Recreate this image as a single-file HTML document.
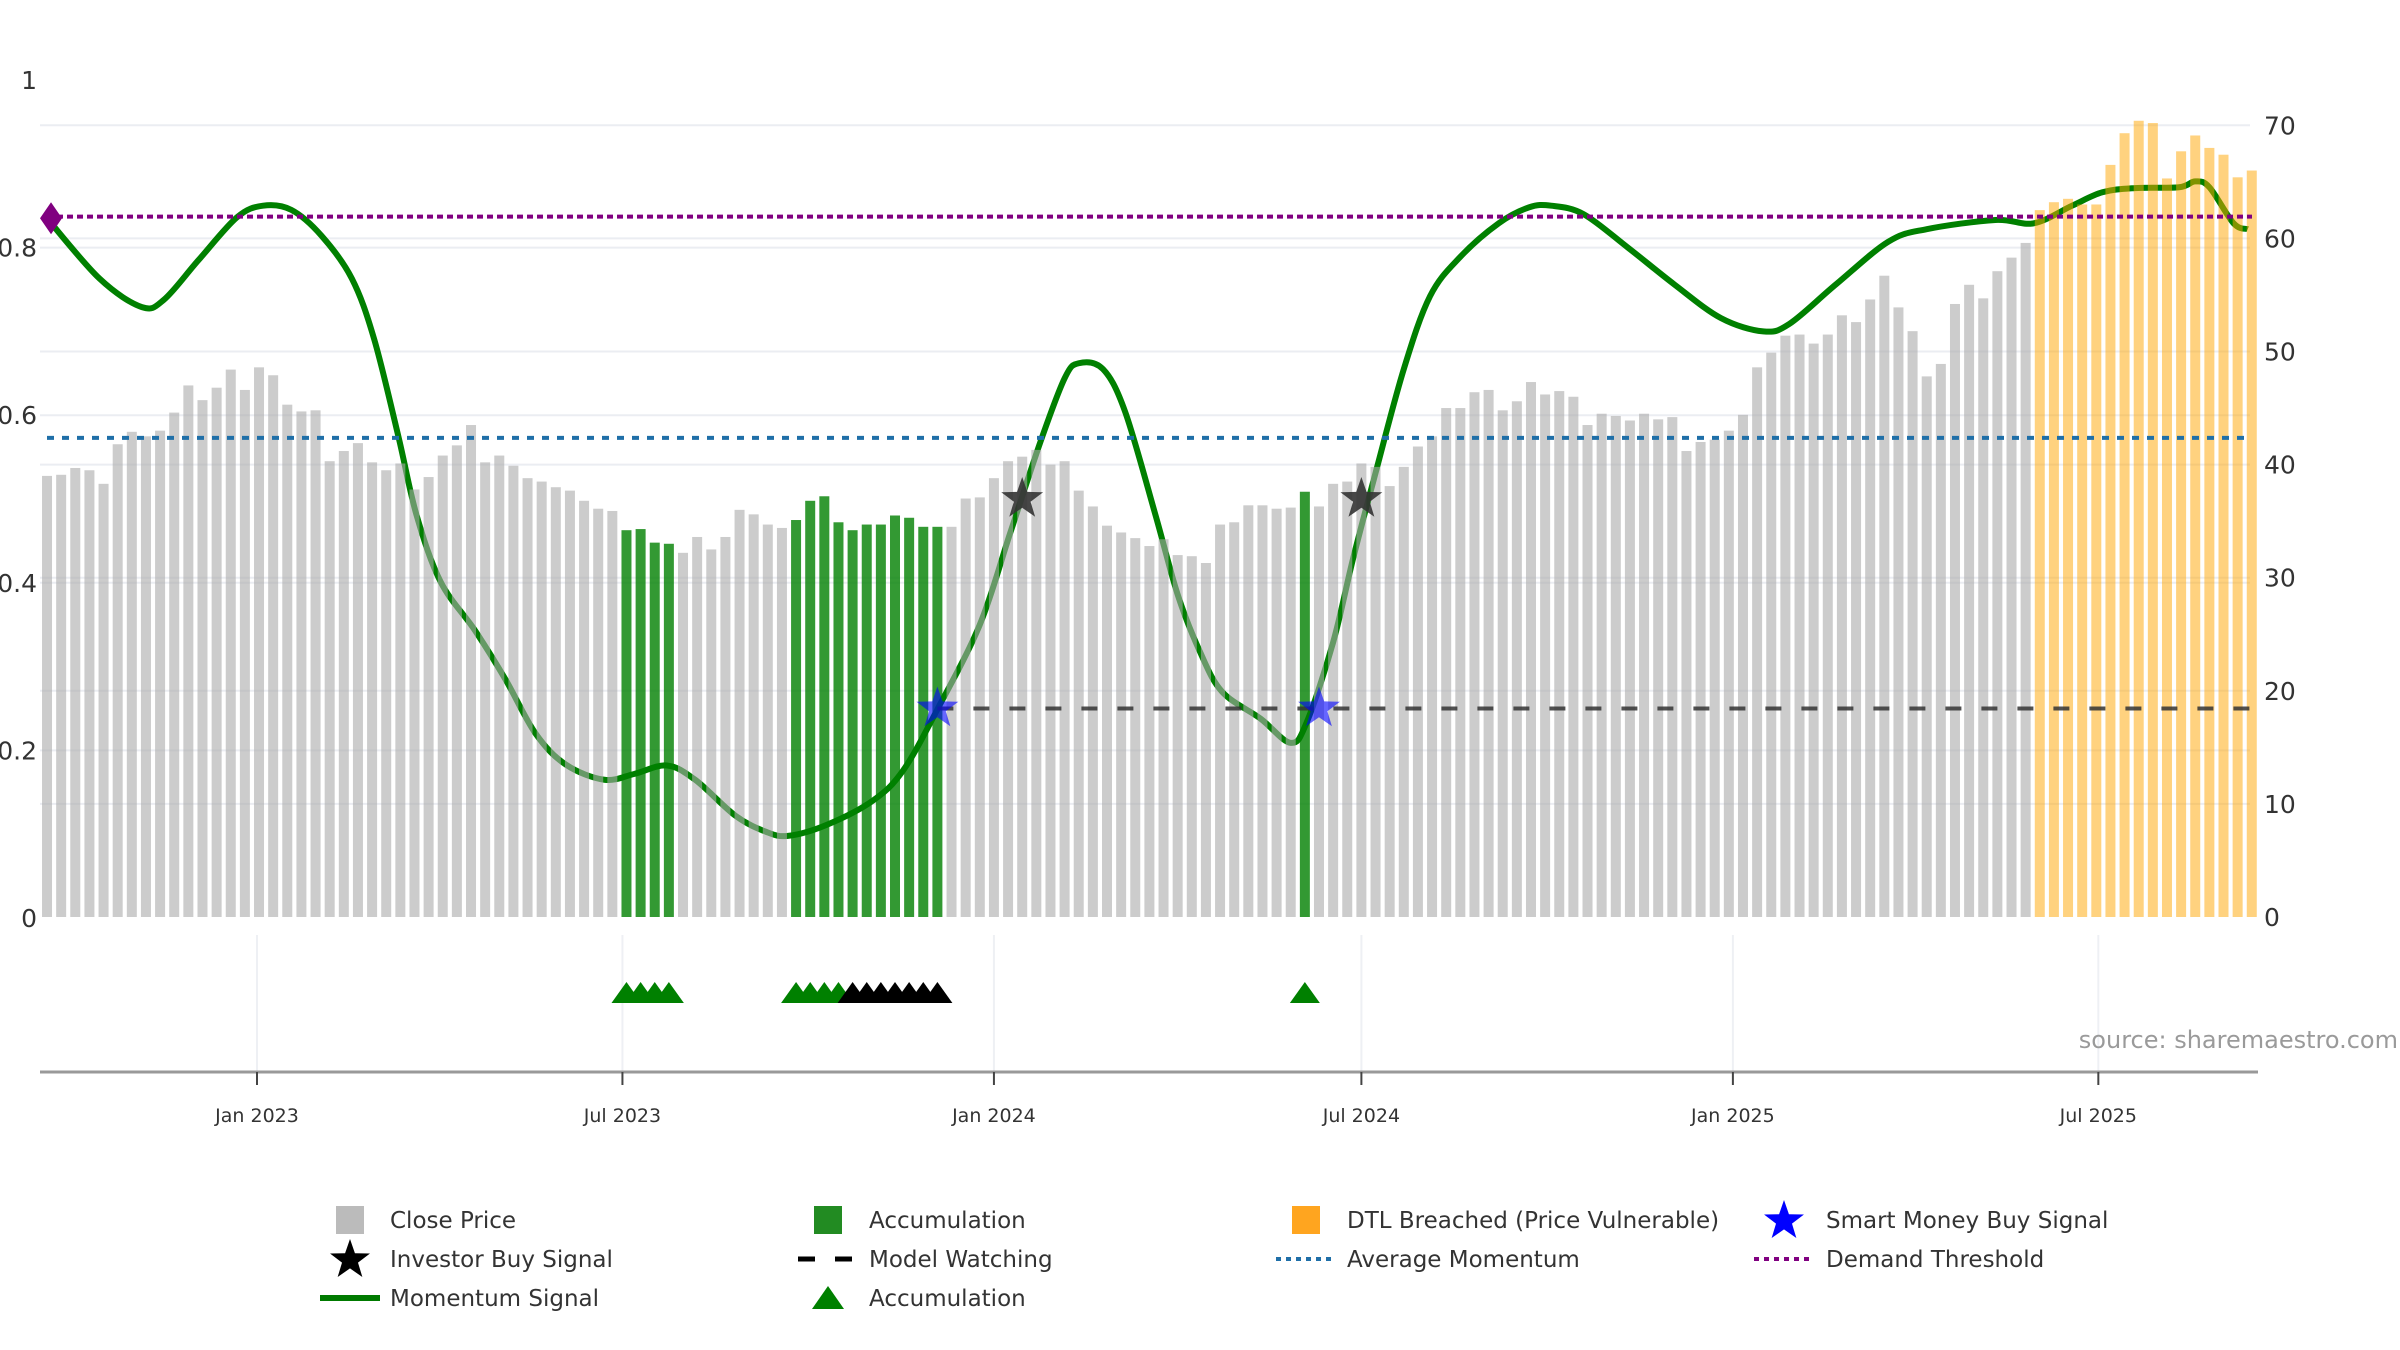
<!DOCTYPE html>
<html><head><meta charset="utf-8"><style>
html,body{margin:0;padding:0;background:#fff}
svg{display:block;font-family:"DejaVu Sans","Liberation Sans",sans-serif}
</style></head><body>
<svg id="chart" width="2400" height="1350" viewBox="0 0 2400 1350" xmlns="http://www.w3.org/2000/svg">
<g id="grid"></g>
<g id="lineLayer"></g>
<g id="bars"></g>
<g id="refs"></g>
<g id="markers"></g>
<g id="axes"></g>
<g id="legend"></g>
<text x="2398" y="1048" text-anchor="end" font-size="24" fill="#9a9a9a">source: sharemaestro.com</text>
</svg>
<script>
// ---- data ----
const closePrices = [39.0,39.1,39.7,39.5,38.3,41.8,42.9,42.5,43.0,44.6,47.0,45.7,46.8,48.4,46.6,48.6,47.9,45.3,44.7,44.8,40.3,41.2,41.9,40.2,39.5,40.1,37.8,38.9,40.8,41.7,43.5,40.2,40.8,39.9,38.8,38.5,38.0,37.7,36.8,
36.1,35.9,34.2,34.3,33.1,33.0,32.2,33.6,32.5,33.6,36.0,35.6,34.7,34.4,35.1,36.8,37.2,34.9,34.2,34.7,34.7,35.5,35.3,34.5,34.5,34.5,37.0,37.1,38.8,40.3,40.7,41.3,40.0,40.3,37.7,36.3,34.6,34.0,33.5,
32.8,33.4,32.0,31.9,31.3,34.7,34.9,36.4,36.4,36.1,36.2,37.6,36.3,38.3,38.5,40.1,39.8,38.1,39.8,41.6,42.5,45.0,45.0,46.4,46.6,44.8,45.6,47.3,46.2,46.5,46.0,43.5,44.5,44.3,43.9,44.5,44.0,44.2,
41.2,42.0,42.2,43.0,44.4,48.6,49.9,51.4,51.5,50.7,51.5,53.2,52.6,54.6,56.7,53.9,51.8,47.8,48.9,54.2,55.9,54.7,57.1,58.3,59.6,62.5,63.2,63.5,63.0,63.0,66.5,69.3,70.4,70.2,65.3,67.7,69.1,68.0,67.4,65.4,66.0];
const firstWeekDay = -104; // days from 2023-01-01 of first weekly bar
const accumulationBars = [41,42,43,44,53,54,55,56,57,58,59,60,61,62,63,89];
const dtlBars = [141,142,143,144,145,146,147,148,149,150,151,152,153,154,155,156];
const momentumDays = [-104,-78,-57,-46,-29,-10,3,17,32,47,58,70,79,91,108,123,138,153,172,187,203,217,237,252,263,282,305,320,337,358,373,388,400,407,419,430,445,456,467,478,497,512,520,533,543,554,568,581,596,615,630,641,657,679,702,725,746,759,782,808,827,861,880,899,914,930,952,960,967,979,986];
const momentumValues = [0.835,0.763,0.729,0.738,0.785,0.836,0.850,0.845,0.814,0.763,0.691,0.575,0.481,0.401,0.343,0.285,0.220,0.183,0.165,0.172,0.182,0.165,0.122,0.103,0.098,0.111,0.140,0.176,0.249,0.350,0.459,0.568,0.644,0.662,0.655,0.604,0.481,0.386,0.318,0.270,0.238,0.209,0.234,0.329,0.430,0.531,0.655,0.742,0.789,0.829,0.848,0.850,0.840,0.800,0.756,0.716,0.700,0.709,0.756,0.807,0.822,0.833,0.829,0.850,0.866,0.871,0.872,0.879,0.872,0.829,0.822];
const averageMomentum = 0.573;
const demandThreshold = 0.837;
const modelWatchingLevel = 0.25;
const modelWatchingStartBar = 63;
const investorBuyBars = [69,93];
const investorBuyValues = [0.5,0.5];
const smartMoneyBars = [63,90];
const smartMoneyValues = [0.25,0.25];
const greenTriangleBars = [41,42,43,44,53,54,55,56,89];
const blackTriangleBars = [57,58,59,60,61,62,63];
const xTickLabels = ["Jan 2023","Jul 2023","Jan 2024","Jul 2024","Jan 2025","Jul 2025"];
const xTickDays = [0,181,365,547,731,912];
const leftTicks = [0,0.2,0.4,0.6,0.8,1];
const leftTickLabels = ["0","0.2","0.4","0.6","0.8","1"];
const rightTicks = [0,10,20,30,40,50,60,70];

// ---- axes functions ----
const NS = "http://www.w3.org/2000/svg";
const X0 = 40, X1 = 2258;
const xDay = d => 257 + d * 2.019;
const xBar = i => xDay(firstWeekDay + 7 * i);
const yL = v => 918 - v * 838;
const yR = v => 917 - v * 11.31;
function mk(tag, attrs, parent){ const e=document.createElementNS(NS,tag); for(const k in attrs) e.setAttribute(k,attrs[k]); parent.appendChild(e); return e; }
const G = id => document.getElementById(id);

// gridlines
rightTicks.forEach(t=>{ if(t===0) return;
  const l=mk('line',{x1:X0,x2:2250,y1:yR(t),y2:yR(t),stroke:'#ebedf2','stroke-width':2},G('grid'));
   });
leftTicks.forEach(t=>{ if(t===0||t===1) return;
  const l=mk('line',{x1:X0,x2:2250,y1:yL(t),y2:yL(t),stroke:'#ebedf2','stroke-width':2},G('grid'));
   });
xTickDays.forEach(d=>{
  const l=mk('line',{x1:xDay(d),x2:xDay(d),y1:935,y2:1072,stroke:'#eef0f4','stroke-width':2},G('grid'));
   });

// momentum line (catmull-rom)
const pts = momentumDays.map((d,i)=>[xDay(d), yL(momentumValues[i])]);
let dstr = `M${pts[0][0]},${pts[0][1]}`;
for(let i=0;i<pts.length-1;i++){
  const p0=pts[Math.max(0,i-1)],p1=pts[i],p2=pts[i+1],p3=pts[Math.min(pts.length-1,i+2)];
  const c1=[p1[0]+(p2[0]-p0[0])/6,p1[1]+(p2[1]-p0[1])/6], c2=[p2[0]-(p3[0]-p1[0])/6,p2[1]-(p3[1]-p1[1])/6];
  dstr+=` C${c1[0]},${c1[1]} ${c2[0]},${c2[1]} ${p2[0]},${p2[1]}`;
}
const ml=mk('path',{d:dstr,fill:'none',stroke:'#008000','stroke-width':6,'stroke-linejoin':'round'},G('lineLayer'));
 

// bars
closePrices.forEach((v,i)=>{
  let fill='#aaaaaa', op=0.6, name='close-price-bar';
  if(accumulationBars.includes(i)){fill='#008000';op=0.8;name='accumulation-bar';}
  if(dtlBars.includes(i)){fill='#ffa500';op=0.5;name='dtl-breached-bar';}
  const r=mk('rect',{x:xBar(i)-5,y:yR(v),width:10,height:yR(0)-yR(v),fill:fill,'fill-opacity':op},G('bars'));
   
});

// reference lines
const dl=mk('line',{x1:47,x2:2252,y1:yL(demandThreshold),y2:yL(demandThreshold),stroke:'#800080','stroke-width':4,'stroke-dasharray':'6 4'},G('refs'));
 
const al=mk('line',{x1:47,x2:2252,y1:yL(averageMomentum),y2:yL(averageMomentum),stroke:'#1f6fa8','stroke-width':4,'stroke-dasharray':'7 8'},G('refs'));
 
const mw=mk('line',{x1:xBar(modelWatchingStartBar),x2:2252,y1:yL(modelWatchingLevel),y2:yL(modelWatchingLevel),stroke:'#333','stroke-opacity':0.85,'stroke-width':4,'stroke-dasharray':'16 20'},G('refs'));
 

// markers
function starPath(cx,cy,R){ const r=R*0.4; let s='';
  for(let k=0;k<10;k++){const a=-Math.PI/2+k*Math.PI/5, rr=k%2?r:R; s+=(k?'L':'M')+(cx+rr*Math.cos(a))+','+(cy+rr*Math.sin(a));} return s+'Z'; }
const dm=mk('path',{d:`M${xBar(0)+4},${yL(momentumValues[0])-16}l11,16l-11,16l-11,-16z`,fill:'#800080'},G('markers'));
 
investorBuyBars.forEach((b,i)=>{
  const s=mk('path',{d:starPath(xBar(b),yL(investorBuyValues[i]),22),fill:'#333','fill-opacity':0.9},G('markers'));
   });
smartMoneyBars.forEach((b,i)=>{
  const s=mk('path',{d:starPath(xBar(b),yL(smartMoneyValues[i]),22),fill:'#0000ff','fill-opacity':0.6},G('markers'));
   });
function tri(b,color,name){
  const cx=xBar(b), cy=993;
  const t=mk('path',{d:`M${cx-15},${cy+10}L${cx},${cy-11}L${cx+15},${cy+10}Z`,fill:color},G('markers'));
   }
greenTriangleBars.forEach(b=>tri(b,'#008000','accumulation-triangle'));
blackTriangleBars.forEach(b=>tri(b,'#000','black-triangle'));

// axes
const ax=mk('line',{x1:X0,x2:X1,y1:1072,y2:1072,stroke:'#999','stroke-width':3},G('axes'));
 
xTickDays.forEach((d,i)=>{
  const tk=mk('line',{x1:xDay(d),x2:xDay(d),y1:1072,y2:1085,stroke:'#444','stroke-width':2},G('axes'));
   
  const tl=mk('text',{x:xDay(d),y:1122,'text-anchor':'middle','font-size':19,fill:'#333'},G('axes'));
  tl.textContent=xTickLabels[i];
   });
leftTicks.forEach((t,i)=>{
  const tl=mk('text',{x:37,y:yL(t)+9,'text-anchor':'end','font-size':25,fill:'#333'},G('axes'));
  tl.textContent=leftTickLabels[i];
   });
rightTicks.forEach(t=>{
  const tl=mk('text',{x:2264,y:yR(t)+9,'font-size':25,fill:'#333'},G('axes'));
  tl.textContent=String(t);
   });

// legend
const L=G('legend');
function ltext(x,y,s){const t=mk('text',{x:x,y:y+8,'font-size':23,fill:'#333'},L); t.textContent=s;
   }
const R1=1220,R2=1259,R3=1298;
let e;
e=mk('rect',{x:336,y:R1-14,width:28,height:28,fill:'#bbbbbb'},L);  
ltext(390,R1,'Close Price');
e=mk('path',{d:starPath(350,R2+1,21),fill:'#000'},L);  
ltext(390,R2,'Investor Buy Signal');
e=mk('line',{x1:320,x2:380,y1:R3,y2:R3,stroke:'#007a00','stroke-width':6},L);  
ltext(390,R3,'Momentum Signal');
e=mk('rect',{x:814,y:R1-14,width:28,height:28,fill:'#228b22'},L);  
ltext(869,R1,'Accumulation');
e=mk('line',{x1:798,x2:852,y1:R2,y2:R2,stroke:'#000','stroke-width':5,'stroke-dasharray':'17 20'},L);  
ltext(869,R2,'Model Watching');
e=mk('path',{d:`M812,${R3+11}L828,${R3-12}L844,${R3+11}Z`,fill:'#008000'},L);  
ltext(869,R3,'Accumulation');
e=mk('rect',{x:1292,y:R1-14,width:28,height:28,fill:'#ffa51f'},L);  
ltext(1347,R1,'DTL Breached (Price Vulnerable)');
e=mk('line',{x1:1276,x2:1332,y1:R2,y2:R2,stroke:'#1f6fa8','stroke-width':4,'stroke-dasharray':'5 5'},L);  
ltext(1347,R2,'Average Momentum');
e=mk('path',{d:starPath(1784,R1+1,21),fill:'#0000ff'},L);  
ltext(1826,R1,'Smart Money Buy Signal');
e=mk('line',{x1:1754,x2:1810,y1:R2,y2:R2,stroke:'#800080','stroke-width':4,'stroke-dasharray':'5 5'},L);  
ltext(1826,R2,'Demand Threshold');
</script>
</body></html>
